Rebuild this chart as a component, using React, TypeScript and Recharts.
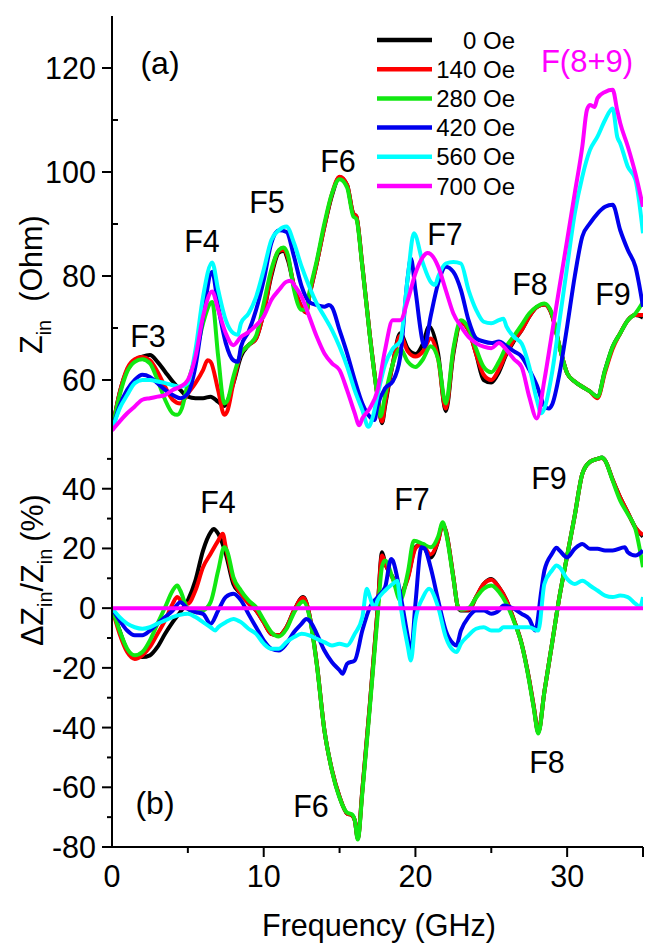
import React from 'react';
import { LineChart, Line, XAxis, YAxis } from 'recharts';

const FONT = '"Liberation Sans", Arial, Helvetica, sans-serif';

// ---------- Panel (a): Z_in (Ohm) vs frequency (GHz) ----------
const zin0Oe = [[0,50.3],[0.5,57.5],[1,61.9],[1.5,63.8],[2,64.5],[2.5,64.8],[3,63.5],[3.5,61.6],[4,59.7],[4.5,58.1],[5,56.8],[5.5,56.5],[6,56.5],[6.5,56.8],[7,55.8],[7.4,55],[8,59.4],[8.5,64.5],[9,66.7],[9.5,68],[10,73],[10.5,80],[11,84.5],[11.3,84.8],[11.6,83],[12,78],[12.5,74],[12.8,73],[13,76],[13.5,82.5],[14,89.5],[14.5,95.5],[15,99],[15.5,97.5],[15.9,92],[16.1,91.5],[16.5,82],[17,68.5],[17.5,57],[17.8,51.7],[18,55],[18.5,63],[19,69],[19.5,66],[20,65],[20.5,67],[20.9,70.3],[21.5,65],[22,54],[22.5,65],[23,71],[23.5,69.6],[24,65],[24.5,60],[25,59.5],[25.5,61.5],[26,65],[26.5,67.5],[27,69.6],[27.5,72.2],[28,74],[28.5,74.5],[29,72.5],[29.5,66.4],[30,61.3],[30.5,59.7],[31,58.7],[31.5,57.8],[32,56.8],[32.5,61.9],[33,66.4],[33.5,69],[34,71.5],[34.5,72.5],[35,72]];
const zin140Oe = [[0,50.3],[0.5,57.5],[1,62.2],[1.5,64],[2,64.4],[2.5,63.8],[3,61.6],[3.5,58.7],[4,56.2],[4.5,55.5],[5,57.4],[5.5,59.4],[6,61.9],[6.3,63.8],[6.5,63.5],[7,58],[7.4,53.3],[7.6,54],[8,59.4],[8.5,65.1],[9,66.7],[9.5,68],[10,73],[10.5,80.5],[11,84.8],[11.3,85],[11.6,83.5],[12,78],[12.5,74],[12.8,73],[13,76],[13.5,82.5],[14,89.5],[14.5,95.8],[15,99.1],[15.5,97.5],[15.9,92],[16.1,91.5],[16.5,82],[17,68.5],[17.5,57],[17.8,52],[18,55.5],[18.5,63],[19,68.5],[19.5,65.5],[20,64.5],[20.5,65.5],[21,68],[21.5,64],[22,54.5],[22.5,65.5],[23,71],[23.5,69.6],[24,65],[24.5,61],[25,60],[25.5,62],[26,65.2],[26.5,67.7],[27,69.6],[27.5,72.2],[28,74],[28.5,74.5],[29,72.5],[29.5,66.4],[30,61.3],[30.5,59.7],[31,58.7],[31.5,57.8],[32,56.5],[32.5,61.5],[33,66],[33.5,69],[34,71.5],[34.5,72.5],[35,72.5]];
const zin280Oe = [[0,50.3],[0.5,57],[1,61.6],[1.5,63.5],[2,64],[2.5,63.2],[3,60],[3.5,56.2],[4,53.6],[4.3,53.3],[4.6,54.5],[5,59.4],[5.5,64.5],[6,70.9],[6.6,75],[7,64.5],[7.4,55.5],[7.6,56],[8,60.6],[8.5,65.1],[9,66.7],[9.5,68.5],[10,74.7],[10.5,81.2],[11,85],[11.3,85.5],[11.6,84],[12,77.3],[12.5,73.5],[12.8,73.5],[13,76.7],[13.5,83],[14,90.1],[14.5,95.9],[15,98.6],[15.5,97],[15.9,91.5],[16.1,91],[16.5,81.8],[17,68.3],[17.5,56.8],[17.7,53],[18,57],[18.5,63],[19,66],[19.5,63.5],[20,62.5],[20.5,64],[21,66.5],[21.5,64],[22,55.5],[22.5,66],[23,71.5],[23.5,70],[24,66],[24.5,62.5],[25,61.5],[25.5,63.5],[26,66.5],[26.5,68.5],[27,70.6],[27.5,72.8],[28,74.1],[28.5,74.7],[29,72.8],[29.5,66.4],[30,61.3],[30.5,59.7],[31,58.7],[31.5,57.8],[32,56.8],[32.5,61.9],[33,66.4],[33.5,69],[34,71.5],[34.5,72.8],[35,75]];
const zin420Oe = [[0,50.3],[0.5,55],[1,58.1],[1.5,60],[2,61],[2.5,60.6],[3,59.4],[3.5,58.1],[4,57.1],[4.5,56.5],[5,57.4],[5.5,62.6],[6,72.2],[6.6,80.8],[7,74.1],[7.5,67.1],[8,63.8],[8.3,63.5],[8.5,66.4],[9,69.3],[9.5,73.5],[10,79.2],[10.5,86.3],[11,88.8],[11.5,88.5],[12,83.7],[12.5,78],[13,75],[13.5,74.4],[14,74.1],[14.3,74.4],[14.5,74],[15,69.6],[15.5,65.1],[16,60],[16.5,55.5],[17,52.9],[17.3,52.3],[17.5,55],[18,58.4],[18.5,59.7],[19,64.5],[19.5,79.9],[19.7,83.4],[20,77.3],[20.5,67.1],[20.6,66.4],[21,72.2],[21.5,78.6],[22,81.8],[22.5,80.8],[23,77.3],[23.5,71.5],[24,68],[24.5,67.4],[25,67.1],[25.5,67.4],[26,66.5],[26.5,65.5],[27,64.5],[27.5,62],[28,59],[28.5,55],[28.8,54.5],[29,55.2],[29.5,61.3],[30,70.3],[30.5,79.9],[31,87.6],[31.5,90.1],[32,92],[32.5,93.3],[33,93.7],[33.5,88.8],[34,85],[34.5,81.8],[35,74.1]];
const zin560Oe = [[0,50.3],[0.5,54.5],[1,57.1],[1.5,59.4],[2,60],[2.5,60],[3,59.7],[3.5,59.4],[4,59],[4.5,58.7],[5,59.4],[5.5,65.8],[6,76],[6.6,82.6],[7,77.3],[7.5,71.5],[8,69],[8.3,68.7],[8.5,70.9],[9,72.8],[9.5,76],[10,81.2],[10.5,86.9],[11,88.8],[11.5,89.5],[12,86.3],[12.5,81.8],[13,78],[13.5,74.7],[14,72.2],[14.5,69.6],[15,66.4],[15.5,62.6],[16,58],[16.5,54.2],[16.9,51],[17.2,53],[17.5,57],[18,63],[18.5,66],[19,67.5],[19.5,79.9],[19.9,88.2],[20.5,82.4],[21,78.9],[21.3,78.3],[21.5,79.9],[22,82.4],[22.5,82.7],[23,82.4],[23.5,77.3],[24,73.5],[24.5,71.2],[25,70.9],[25.5,71.5],[25.8,71.8],[26,70.3],[26.5,68.3],[27,67],[27.5,62.6],[28,56.2],[28.3,53.6],[28.5,54.5],[29,61.3],[29.5,71.5],[30,81.8],[30.5,92],[31,99.1],[31.5,104.2],[32,106.8],[32.5,110],[33,112.2],[33.3,106.8],[33.5,105.5],[34,101],[34.5,98.5],[35,88.2]];
const zin700Oe = [[0,50.3],[0.5,52],[1,53.6],[1.5,54.9],[2,56.2],[2.5,56.5],[3,56.8],[3.5,57.1],[4,58.1],[4.5,58.7],[5,60],[5.5,64.5],[6,72.2],[6.6,77],[7,73.5],[7.5,69],[8,66.7],[8.5,68.3],[9,69.2],[9.5,70.5],[10,72.2],[10.5,75.4],[11,77.3],[11.5,78.9],[11.8,79.1],[12,78.3],[12.5,76],[13,72.2],[13.5,68.3],[14,65.1],[14.5,63.2],[15,61.9],[15.5,58],[16,53.6],[16.3,51.3],[16.5,52.6],[17,54.6],[17.5,58],[18,65.8],[18.5,71.5],[19,71.5],[19.5,75.4],[20,80.5],[20.5,83.7],[20.8,84.4],[21,84.2],[21.5,81.8],[22,77.3],[22.5,72.8],[23,70.3],[23.5,68.3],[24,67.1],[24.5,66.4],[25,66.1],[25.5,67.1],[26,65.8],[26.5,64],[27,62.5],[27.5,56.8],[28,52.6],[28.5,60],[29,69],[29.5,78],[30,86.9],[30.5,95.9],[31,104.9],[31.3,111.9],[31.5,112.9],[31.8,112.5],[32,114.2],[32.5,115.4],[33,115.8],[33.3,111.9],[33.5,109.4],[34,104.9],[34.5,99.7],[35,93.3]];

// ---------- Panel (b): ΔZin/Zin (%) vs frequency (GHz) ----------
const dz0Oe = [[0,0],[0.5,-7.5],[1,-14.1],[1.5,-16.4],[2,-16.4],[2.5,-15.8],[3,-13],[3.5,-8.6],[4,-4.7],[4.5,-1.3],[5,2.6],[5.5,9.3],[6,19.3],[6.5,25.4],[6.7,26.5],[7,24.9],[7.5,18.2],[8,8.1],[8.5,4.8],[9,2],[9.5,-0.8],[10,-4.7],[10.5,-8.6],[11,-9.1],[11.5,-6.4],[12,-0.8],[12.6,3.7],[13,-1.9],[13.5,-18.6],[14,-40.9],[14.5,-54.3],[15,-63.2],[15.5,-68.8],[15.8,-69.3],[16,-71],[16.2,-77.1],[16.5,-61],[17,-32],[17.5,-0.8],[17.8,18.7],[18,15],[18.5,10.4],[19,4.8],[19.5,10.4],[20,20.4],[20.4,21.5],[21,17],[21.5,22.6],[21.8,28.2],[22,26],[22.5,10.4],[22.8,0.3],[23,-0.8],[23.5,-0.8],[24,3.7],[24.5,8.1],[25,9.8],[25.5,7],[26,2.6],[26.5,-4.1],[27,-11.9],[27.5,-24],[27.8,-33],[28.1,-41.5],[28.5,-28],[29,-12],[29.5,4],[30,17.5],[30.5,31],[31,45],[31.5,49],[32,50],[32.3,50.5],[32.5,49.5],[33,43],[33.5,37],[34,32],[34.5,27],[35,24]];
const dz140Oe = [[0,0],[0.5,-8.6],[1,-14.7],[1.5,-17],[2,-15.8],[2.5,-13],[3,-8.6],[3.5,-4.1],[4,1.5],[4.3,3.7],[4.6,2.2],[5,1.5],[5.5,5.9],[6,13.7],[6.5,18.2],[7,22.6],[7.3,24.9],[7.5,20.4],[8,9.3],[8.5,4.8],[9,1.5],[9.5,-0.8],[10,-4.7],[10.5,-8.6],[11,-9.1],[11.5,-6.4],[12,-0.8],[12.6,3.5],[13,-1.9],[13.5,-18.6],[14,-40.9],[14.5,-54.3],[15,-63.2],[15.5,-68.8],[15.8,-69.3],[16,-71],[16.2,-77],[16.5,-61],[17,-32],[17.5,-0.8],[17.8,17.6],[18,15],[18.5,10],[19,4.5],[19.5,10],[20,20],[20.4,21.5],[21,18],[21.5,22.6],[21.8,28.2],[22,26],[22.5,10.4],[22.8,0.5],[23,-0.5],[23.5,-0.5],[24,3.7],[24.5,8.1],[25,9.5],[25.5,7],[26,2.6],[26.5,-4.1],[27,-11.9],[27.5,-24],[27.8,-33],[28.1,-41.5],[28.5,-28],[29,-12],[29.5,4],[30,17.5],[30.5,31],[31,45],[31.5,49],[32,50],[32.3,50.3],[32.5,49.5],[33,43],[33.5,37],[34,32],[34.5,27],[35,24.5]];
const dz280Oe = [[0,0],[0.5,-7.5],[1,-13.6],[1.5,-15.8],[2,-14.7],[2.5,-10.8],[3,-5.2],[3.5,0.3],[4,5.9],[4.3,7.6],[4.5,5.9],[5,-0.2],[5.5,-1.3],[6,-0.8],[6.5,2],[7,12.6],[7.4,20.4],[7.6,19],[8,10.4],[8.5,5.9],[9,2.6],[9.5,0.3],[10,-4],[10.5,-8],[11,-9.5],[11.5,-7],[12,-1.5],[12.6,2.2],[13,-2.5],[13.5,-19],[14,-41],[14.5,-54.5],[15,-63.5],[15.5,-68.5],[15.8,-69],[16,-71],[16.2,-77.5],[16.5,-62],[17,-33],[17.5,-3],[17.8,14],[18,16],[18.5,10],[19,2.6],[19.5,12],[19.9,22.6],[20.5,21.5],[21,20.4],[21.5,24],[21.8,28.8],[22,25.5],[22.5,10],[22.8,0.5],[23,-0.5],[23.5,0],[24,3.5],[24.5,6.5],[25,7.6],[25.5,5.5],[26,1.5],[26.5,-4.5],[27,-12],[27.5,-24.5],[27.8,-33.5],[28.1,-42],[28.5,-28],[29,-12],[29.5,4],[30,17.5],[30.5,31],[31,45],[31.5,49],[32,50],[32.3,50.5],[32.5,49.5],[33,42.7],[33.5,36],[34,31.5],[34.5,26.5],[35,13.7]];
const dz420Oe = [[0,0],[0.5,-4.1],[1,-7.5],[1.5,-9.1],[2,-9.1],[2.5,-7.5],[3,-5.2],[3.5,-3],[4,-0.8],[4.5,2],[5,-0.2],[5.5,-1.3],[6,-1.9],[6.5,-5.2],[7,-0.8],[7.5,3.7],[8,4.8],[8.5,2.6],[9,-2],[9.5,-6.4],[10,-10.8],[10.5,-13.6],[11,-14.2],[11.5,-11.9],[12,-8],[12.5,-5.2],[12.8,-3.6],[13,-4.1],[13.5,-8.6],[14,-14.2],[14.5,-18.1],[15,-20.8],[15.2,-22],[15.5,-18.6],[16,-17.5],[16.5,-7.5],[17,0.3],[17.5,3.7],[18,7],[18.4,16.5],[18.5,16],[19,4.8],[19.5,-9.7],[19.7,-15.3],[20,1.5],[20.4,20.4],[20.6,20],[21,13.7],[21.5,2.6],[22,-7.5],[22.5,-11.9],[22.7,-12.5],[23,-7.5],[23.5,-3],[24,-0.8],[24.5,-0.8],[25,-1.9],[25.5,-0.8],[25.8,0.9],[26.5,-0.2],[27,-1.9],[27.5,-3.6],[27.9,-7.5],[28.3,5.9],[28.5,12.6],[29,18.2],[29.3,20.2],[29.5,19.3],[30,17],[30.5,19.9],[31,21.5],[31.5,19.9],[32,19.9],[32.5,19.3],[33,19.3],[33.8,20.4],[34,18.7],[34.5,17.6],[35,19.3]];
const dz560Oe = [[0,0],[0.5,-3],[1,-5.2],[1.5,-6.4],[2,-6.9],[2.5,-6.4],[3,-5.2],[3.5,-4.1],[4,-3],[4.5,-2.2],[5,-1.9],[5.5,-3],[6,-4.7],[6.5,-6.4],[6.8,-7.5],[7,-6.4],[7.5,-4.7],[8,-3.6],[8.5,-4.7],[9,-6.9],[9.5,-8.6],[10,-11.9],[10.5,-13.6],[11,-13.6],[11.5,-11.4],[12,-9.7],[12.5,-8.6],[13,-9.1],[13.5,-10.3],[14,-11.4],[14.5,-12.5],[15,-11.9],[15.5,-12.5],[16,-8.6],[16.5,-3],[16.8,6.5],[17,3.7],[17.3,-0.2],[17.5,2.6],[18,5.9],[18.5,8.1],[18.8,9.2],[19,1.5],[19.5,-13],[19.7,-17.5],[20,-4.1],[20.5,3.7],[20.9,6.5],[21.5,0.3],[22,-9.7],[22.5,-14.2],[22.7,-14.7],[23,-11.9],[23.5,-9.1],[24,-6.9],[24.5,-6.4],[25,-7.5],[25.5,-7.5],[25.8,-6.4],[26.5,-6.4],[27,-6.4],[27.5,-6.4],[28.1,-7.5],[28.5,8.1],[29,12.6],[29.3,14.3],[29.5,13.7],[30,9.8],[30.5,8.1],[31,9.2],[31.5,7.6],[32,5.9],[32.5,4.2],[33,3.7],[33.5,4.2],[34,3.7],[34.5,1.5],[34.8,0.5],[35,3.7]];
const dz700Oe = [[0,0],[35,0]];

const fieldLabels = ['0 Oe', '140 Oe', '280 Oe', '420 Oe', '560 Oe', '700 Oe'];
const colors = ['#000000', '#ff0000', '#12e812', '#0000ee', '#00ffff', '#ff00ff'];
const topSeries = [zin0Oe, zin140Oe, zin280Oe, zin420Oe, zin560Oe, zin700Oe];
const bottomSeries = [dz0Oe, dz140Oe, dz280Oe, dz420Oe, dz560Oe, dz700Oe];

const xTicks = [0, 5, 10, 15, 20, 25, 30, 35];
const xTickLabels = [0, 10, 20, 30];
const topYTicks = [50, 60, 70, 80, 90, 100, 110, 120, 130];
const topYLabels = [60, 80, 100, 120];
const botYTicks = [-80, -70, -60, -50, -40, -30, -20, -10, 0, 10, 20, 30, 40, 50];
const botYLabels = [-80, -60, -40, -20, 0, 20, 40];

const toPts = (a: number[][]) => a.map(([f, v]) => ({ f, v }));

const AX = { stroke: '#000', strokeWidth: 2 };
const TXT = { fontFamily: FONT, fill: '#000' } as const;
const FS = 30.5;

// ----- custom ticks -----
const TopLeftTick = (p: any) => {
  const { x, y } = p; const v = p.payload.value;
  if (v === 50 || v === 130) return <g />;
  const major = topYLabels.includes(v);
  return (
    <g>
      {major
        ? <line x1={x - 10} x2={x} y1={y} y2={y} {...AX} />
        : <line x1={x} x2={x + 6} y1={y} y2={y} {...AX} />}
      {major && <text x={x - 16} y={y} dy="0.36em" textAnchor="end" fontSize={FS} {...TXT}>{v}</text>}
    </g>
  );
};
const TopRightTick = (p: any) => {
  const { x, y } = p; const v = p.payload.value;
  if (v === 50 || v === 130) return <g />;
  const major = topYLabels.includes(v);
  return major
    ? <line x1={x - 9} x2={x + 9} y1={y} y2={y} {...AX} />
    : <line x1={x - 6} x2={x} y1={y} y2={y} {...AX} />;
};
const CrossXTick = (p: any) => {
  const { x, y } = p; const v = p.payload.value;
  if (v === 0 || v === 35) return <g />;
  const major = v % 10 === 0;
  const h = major ? 9 : 7;
  return <line x1={x} x2={x} y1={y - h} y2={y + h} {...AX} />;
};
const BotLeftTick = (p: any) => {
  const { x, y } = p; const v = p.payload.value;
  const major = botYLabels.includes(v);
  return (
    <g>
      <line x1={x - (major ? 10 : 5)} x2={x} y1={y} y2={y} {...AX} />
      {major && <text x={x - 16} y={y} dy="0.36em" textAnchor="end" fontSize={FS} {...TXT}>{v}</text>}
    </g>
  );
};
const BotXTick = (p: any) => {
  const { x, y } = p; const v = p.payload.value;
  const major = v % 10 === 0 || v === 35;
  return (
    <g>
      {v !== 0 && <line x1={x} x2={x} y1={y} y2={y + (major ? 10 : 6)} {...AX} />}
      {xTickLabels.includes(v) && <text x={x} y={y + 40} textAnchor="middle" fontSize={FS} {...TXT}>{v}</text>}
    </g>
  );
};

const common = { tickSize: 0, tickMargin: 0, tickLine: false, axisLine: AX, interval: 0 as const, allowDataOverflow: true };

export default function App() {
  return (
    <div style={{ position: 'absolute', left: 0, top: 0, width: 659, height: 945, background: '#fff' }}>
      {/* Panel (a) */}
      <div style={{ position: 'absolute', left: 0, top: 0 }}>
        <LineChart width={659} height={440} margin={{ top: 16, right: 16, bottom: 8, left: 0 }}>
          <XAxis xAxisId={0} type="number" dataKey="f" domain={[0, 35]} ticks={xTicks} height={0} tick={CrossXTick} {...common} />
          <XAxis xAxisId="top" orientation="top" type="number" dataKey="f" domain={[0, 35]} ticks={xTicks} height={0} tick={CrossXTick} {...common} />
          <YAxis yAxisId={0} type="number" domain={[50, 130]} ticks={topYTicks} width={112} tick={TopLeftTick} {...common} />
          <YAxis yAxisId="right" orientation="right" type="number" domain={[50, 130]} ticks={topYTicks} width={0} tick={TopRightTick} {...common} />
          {topSeries.map((s, i) => (
            <Line key={fieldLabels[i]} name={fieldLabels[i]} data={toPts(s)} dataKey="v" type="monotone"
              stroke={colors[i]} strokeWidth={4} dot={false} activeDot={false} isAnimationActive={false} />
          ))}
        </LineChart>
      </div>
      {/* Panel (b) */}
      <div style={{ position: 'absolute', left: 0, top: 0 }}>
        <LineChart width={659} height={945} margin={{ top: 432, right: 16, bottom: 0, left: 0 }}>
          <XAxis xAxisId={0} type="number" dataKey="f" domain={[0, 35]} ticks={xTicks} height={98} tick={BotXTick} {...common} />
          <YAxis yAxisId={0} type="number" domain={[-80, 59]} ticks={botYTicks} width={112} tick={BotLeftTick} {...common} />
          <YAxis yAxisId="right" orientation="right" type="number" domain={[-80, 59]} width={0} tick={false} {...common} />
          {bottomSeries.map((s, i) => (
            <Line key={fieldLabels[i]} name={fieldLabels[i]} data={toPts(s)} dataKey="v" type="monotone"
              stroke={colors[i]} strokeWidth={4} dot={false} activeDot={false} isAnimationActive={false} />
          ))}
        </LineChart>
      </div>
      {/* Annotations, legend and titles */}
      <svg width={659} height={945} style={{ position: 'absolute', left: 0, top: 0, pointerEvents: 'none' }}>
        <g fontFamily={FONT} fill="#000">
          <text x={160} y={74} fontSize={32} textAnchor="middle">(a)</text>
          <text x={148} y={347} fontSize={FS} textAnchor="middle">F3</text>
          <text x={202} y={252} fontSize={FS} textAnchor="middle">F4</text>
          <text x={267} y={213} fontSize={FS} textAnchor="middle">F5</text>
          <text x={338} y={172} fontSize={FS} textAnchor="middle">F6</text>
          <text x={445} y={245} fontSize={FS} textAnchor="middle">F7</text>
          <text x={530} y={295} fontSize={FS} textAnchor="middle">F8</text>
          <text x={613} y={305} fontSize={FS} textAnchor="middle">F9</text>
          <text x={587} y={72} fontSize={31} textAnchor="middle" fill="#ff00ff">F(8+9)</text>

          <text x={218} y={513} fontSize={FS} textAnchor="middle">F4</text>
          <text x={412} y={510} fontSize={FS} textAnchor="middle">F7</text>
          <text x={549} y={489} fontSize={FS} textAnchor="middle">F9</text>
          <text x={547} y={773} fontSize={FS} textAnchor="middle">F8</text>
          <text x={311} y={817} fontSize={FS} textAnchor="middle">F6</text>
          <text x={155} y={814} fontSize={32} textAnchor="middle">(b)</text>

          {fieldLabels.map((l, i) => (
            <g key={l}>
              <line x1={377} x2={432} y1={40 + i * 29.2} y2={40 + i * 29.2} stroke={colors[i]} strokeWidth={4.5} />
              <text x={515} y={40 + i * 29.2} dy="0.36em" fontSize={24} textAnchor="end">{l}</text>
            </g>
          ))}

          <text transform="translate(42,354) rotate(-90)" fontSize={FS} textAnchor="start">
            Z<tspan fontSize={20} dy={9}>in</tspan><tspan dy={-9} dx={18}>(Ohm)</tspan>
          </text>
          <text transform="translate(43,646) rotate(-90)" fontSize={FS} textAnchor="start">
            ΔZ<tspan fontSize={20} dy={9}>in</tspan><tspan dy={-9}>/Z</tspan><tspan fontSize={20} dy={9}>in</tspan><tspan dy={-9} dx={7}>(%)</tspan>
          </text>
          <text x={379} y={936} fontSize={FS} textAnchor="middle">Frequency (GHz)</text>
        </g>
      </svg>
    </div>
  );
}
